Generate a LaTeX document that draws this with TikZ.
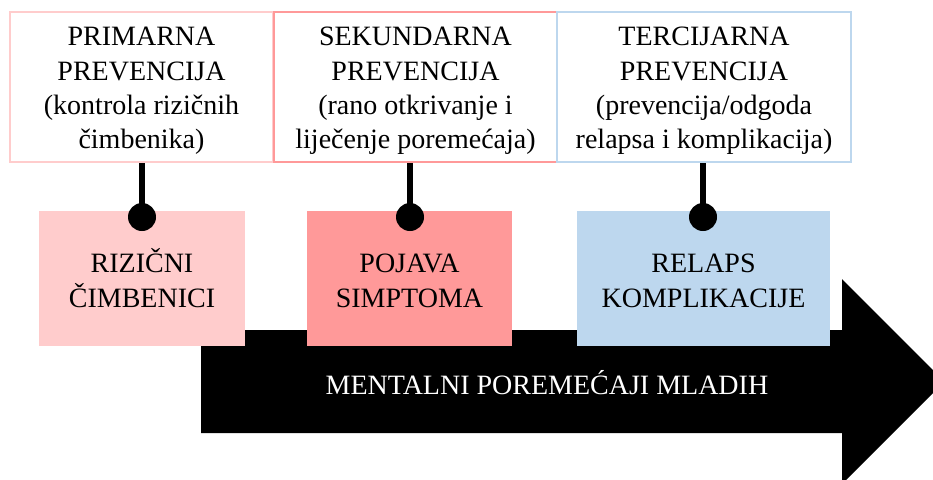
\documentclass[tikz,border=0pt]{standalone}
\usepackage{fontspec}
\setmainfont{Liberation Serif}
\usepackage{tikz}
\usetikzlibrary{calc}
\definecolor{rizikpink}{HTML}{FFCCCC}
\definecolor{simptred}{HTML}{FF9999}
\definecolor{relapsblue}{HTML}{BDD7EE}
\newcommand{\accstrut}{\vphantom{Č}}
\newcommand{\topstrut}{\rule{0pt}{13.3pt}}
\tikzstyle{prevbox}=[rectangle,fill=white,line width=0.6pt,inner sep=0pt,minimum height=75pt,align=center,font=\fontsize{14}{17.2}\selectfont]
\tikzstyle{stage}=[rectangle,inner sep=0pt,minimum height=67.5pt,align=center,font=\fontsize{14}{17.5}\selectfont]
\tikzstyle{vertex}=[circle,fill=black,minimum size=14pt,inner sep=0pt]
\tikzstyle{edge} = [draw,line width=2.6pt,-]

\begin{document}
\begin{tikzpicture}[x=0.5pt,y=-0.5pt]
      \useasboundingbox (0,0) rectangle (933,479);
      \clip (0,0) rectangle (933,479);
      % timeline arrow
      \fill[black] (201,330) -- (842,330) -- (842,279) -- (944.5,381.5)
        -- (842,484) -- (842,433) -- (201,433) -- cycle;
      \node[text=white,font=\fontsize{14}{17.5}\selectfont] (mladi) at (547,383)
        {MENTALNI POREMEĆAJI MLADIH};

      % stages
      \node[stage,fill=rizikpink,minimum width=103pt] (stage1) at (142,278.5)
        {RIZIČNI\\ČIMBENICI};
      \node[stage,fill=simptred,minimum width=102.5pt] (stage2) at (409.5,278.5)
        {\accstrut POJAVA\\SIMPTOMA};
      \node[stage,fill=relapsblue,minimum width=126.5pt] (stage3) at (703.5,278.5)
        {\accstrut RELAPS\\KOMPLIKACIJE};

      % prevention levels
      \node[prevbox,draw=rizikpink,minimum width=131.5pt] (prev1) at (141.5,87)
        {\topstrut PRIMARNA\\PREVENCIJA\\(kontrola rizičnih\\čimbenika)};
      \node[prevbox,draw=simptred,minimum width=141.5pt] (prev2) at (415.5,87)
        {\topstrut SEKUNDARNA\\PREVENCIJA\\(rano otkrivanje i\\liječenje poremećaja)};
      \node[prevbox,draw=relapsblue,minimum width=147pt] (prev3) at (704,87)
        {\topstrut TERCIJARNA\\PREVENCIJA\\(prevencija/odgoda\\relapsa i komplikacija)};

      \foreach \xx/\id in {142/1,410/2,703/3}{
        \node[vertex] (dot\id) at (\xx,217) {};
      }
      \foreach \id in {1,2,3}{
        \path[edge] (dot\id.center) -- (dot\id.center |- prev\id.south);
      }

    \end{tikzpicture}
\end{document}
